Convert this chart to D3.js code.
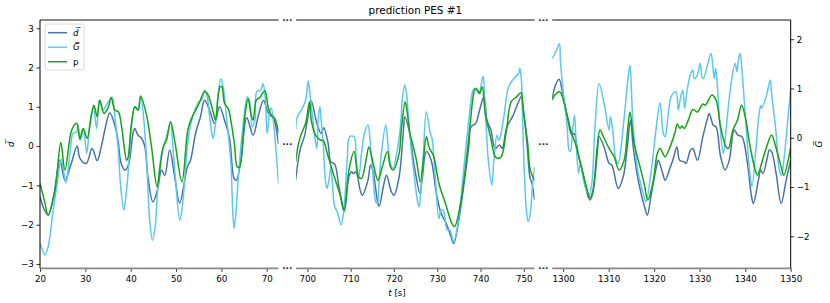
<!DOCTYPE html>
<html>
<head>
<meta charset="utf-8">
<script src="https://cdn.jsdelivr.net/npm/d3@7"></script>
<style>
  body { margin: 0; background: #fff; }
  text { font-family: "DejaVu Sans", sans-serif; }
</style>
</head>
<body>
<div id="chart"></div>
<script>

// time windows shown in the three broken panels [s]
const windows = [[20, 72.6], [697.4, 752.5], [1297.6, 1350]];
const windowTicks = [
  [20, 30, 40, 50, 60, 70],
  [700, 710, 720, 730, 740, 750],
  [1300, 1310, 1320, 1330, 1340, 1350]
];
const leftTicks = [-3, -2, -1, 0, 1, 2, 3];
const rightTicks = [-2, -1, 0, 1, 2];

// d-bar (left axis)
const dbarWin1 = [[20,-1.29],[21,-1.63],[21.8,-1.75],[23,-1.27],[24.4,-0.36],[25.5,-0.87],[26.9,-0.44],[28.2,0],[28.8,-0.31],[30.2,-0.44],[31.5,-0.06],[32.6,-0.37],[33.5,-0.02],[34.3,0.41],[35.4,0.85],[36.5,0.53],[37.2,0.15],[37.9,-0.44],[38.8,-0.61],[39.6,-0.44],[40.5,0.32],[40.9,0.45],[41.6,0.28],[42.4,0.2],[43.1,0],[43.8,-0.78],[44.9,-1.42],[45.9,-1.12],[46.8,-0.61],[47.5,-0.75],[48.6,-0.1],[49.7,-0.78],[50.8,-1.45],[51.8,-0.95],[52.5,-0.53],[53.2,-0.36],[54.3,0.32],[55.4,0.75],[56.3,1.17],[57.4,0.92],[58.5,0.58],[59.6,1.0],[60.7,0.66],[61.8,0.2],[62.8,-0.82],[63.3,-0.87],[64.3,-0.36],[65.6,0.72],[67,0.28],[68.2,0.8],[69.3,1.17],[70.3,0.85],[71.5,0.7],[72.6,0.05]];
const dbarWin2 = [[697.3,-0.87],[698.3,-0.1],[699.4,0.28],[700,0.66],[700.9,1.15],[702.2,0.58],[703.2,0.32],[703.8,0.47],[704.8,0.07],[705.4,-0.4],[706.3,-0.46],[707.3,-1.03],[708.5,-1.67],[709.6,-0.78],[710.2,-0.65],[710.6,-0.7],[711.2,-0.65],[712.2,-1.12],[712.7,-1.25],[714,-0.87],[714.6,-0.48],[715.2,-0.65],[716.3,-1.46],[716.6,-1.53],[717.7,-0.95],[718.3,-0.74],[719.4,-1.16],[720,-1.25],[721.2,-0.78],[722.2,0.41],[722.5,0.75],[723.5,0.41],[724.5,-0.36],[725,-0.7],[726,-1.2],[726.5,-0.87],[727.5,-0.14],[728.6,-0.36],[729.8,-1.2],[730.9,-1.71],[732.1,-1.97],[733.2,-2.31],[733.8,-2.48],[735,-1.88],[736.1,-1.03],[737.3,-0.02],[737.8,0.49],[738.9,0.58],[739.8,0.92],[740.8,1.26],[741.5,0.66],[742.4,0.41],[743.4,-0.06],[744.4,0.03],[745,-0.06],[746.1,0.49],[747.4,0.75],[748.8,1.13],[749.4,1.26],[750,0.83],[750.8,-0.02],[751.4,-0.78],[751.9,-0.95],[752.5,-1.37]];
const dbarWin3 = [[1297.6,1.21],[1298.2,1.51],[1299.1,1.7],[1299.9,1.34],[1300.9,0.75],[1301.9,0.28],[1302.4,0.32],[1303.3,-0.19],[1304.4,-0.7],[1305.5,-1.29],[1305.9,-1.37],[1306.5,-1.2],[1307.5,-0.19],[1307.9,0.24],[1309,-0.02],[1310.1,-0.44],[1310.7,-0.48],[1312.1,-1.08],[1313.2,-0.78],[1314.1,-0.02],[1314.8,0.66],[1315.4,-0.02],[1316.5,-0.87],[1318,-1.59],[1318.5,-1.76],[1319.4,-1.2],[1320.5,-0.53],[1320.9,-0.36],[1321.9,-0.7],[1322.4,-0.87],[1323.5,-0.55],[1324.1,-0.36],[1325,-0.02],[1325.6,-0.36],[1326.6,-0.4],[1327,-0.44],[1328,-0.1],[1328.5,-0.06],[1329.5,-0.36],[1330.7,0.24],[1331.7,0.7],[1332.1,0.83],[1333,0.53],[1333.6,0.49],[1334.6,-0.27],[1335.6,-0.61],[1336.5,-0.36],[1337.6,0.41],[1338.4,0.28],[1339.3,0.24],[1340.4,-0.36],[1341.4,-1.29],[1341.8,-1.46],[1342.9,-0.87],[1343.4,-0.61],[1343.9,-0.7],[1344.9,-0.27],[1345.3,-0.1],[1345.8,-0.14],[1346.8,-0.7],[1347.9,-1.46],[1349,-0.87],[1350,-0.36]];

// G-bar (right axis)
const gbarWin1 = [[20,-2.14],[20.7,-2.31],[21.1,-2.38],[21.8,-2.21],[22.9,-1.47],[23.8,-0.92],[24.7,-0.43],[25.7,-0.92],[26.6,-0.32],[27.3,0.09],[28.1,0.12],[28.4,0.26],[28.9,-0.05],[29.6,0.16],[30.3,-0.32],[31,0.29],[31.8,0.6],[32.5,0.19],[33.1,0.76],[33.9,0.56],[34.6,0.66],[35.1,0.73],[35.9,0.82],[36.5,0.43],[37.2,-0.18],[37.8,-0.99],[38.5,-1.47],[39,-1.13],[39.6,-0.52],[40.1,0.16],[40.9,0.63],[41.5,0.56],[42.2,0.85],[42.9,0.36],[43.5,-0.45],[44.2,-1.67],[44.8,-2.08],[45.4,-1.8],[46,-0.99],[46.8,-0.32],[47.9,0.02],[48.8,0.32],[49.3,-0.18],[49.9,-0.86],[50.8,-1.67],[51.3,-1.47],[51.9,-0.86],[52.5,-0.18],[53,0.16],[53.7,0.43],[55,0.73],[55.6,0.76],[56.3,0.97],[56.9,0.83],[57.4,0.43],[57.9,0.09],[58.2,-0.01],[58.7,0.29],[59.3,0.9],[59.9,1.2],[60.4,1.03],[61.2,0.36],[62.1,-0.52],[62.5,-1.47],[62.8,-1.84],[63.2,-1.53],[63.7,-0.86],[64.3,-0.18],[65,0.43],[65.7,0.83],[66.3,0.7],[66.8,0.22],[67.4,0.36],[67.8,0.93],[68.7,0.97],[69.2,1.1],[69.7,0.76],[70.1,0.09],[70.7,0.56],[71,0.6],[71.6,0.22],[72.1,-0.32],[72.6,-0.93]];
const gbarWin2 = [[697.3,0.16],[697.7,0.43],[698.6,0.56],[699.6,0.76],[700.2,1.15],[700.6,0.9],[701.2,0.43],[701.7,0.02],[702.2,-0.22],[702.5,0.36],[702.9,0.63],[703.2,0.36],[703.7,-0.18],[704.1,-0.79],[704.5,-1.03],[705,-0.86],[705.4,-0.59],[705.8,-0.93],[706.3,-1.4],[706.9,-1.5],[707.8,-1.77],[708.5,-1.4],[709.2,-0.45],[709.8,0.02],[710.8,0.02],[711.3,-0.45],[711.9,-0.79],[712.5,-0.32],[713.2,0.09],[714,0.26],[714.6,-0.18],[715.2,-0.79],[715.8,-1.3],[716.2,-1.33],[716.5,-0.99],[717.1,-0.32],[718.1,0.26],[718.6,-0.11],[719.2,-0.52],[719.8,-0.62],[720.9,-0.18],[721.5,0.22],[722,0.83],[722.5,1.07],[722.9,0.9],[723.4,0.36],[724,-0.25],[724.5,-0.62],[725.4,-1.26],[725.8,-1.4],[726.3,-0.99],[726.8,-0.32],[727.5,0.53],[728.4,0.09],[728.8,-0.01],[729.6,-0.86],[730.4,-1.64],[730.9,-1.47],[731.4,-1.47],[732.3,-1.87],[732.9,-1.87],[733.8,-2.11],[735,-1.6],[736.1,-0.66],[737.3,0.36],[738.3,0.97],[738.8,1.0],[739.6,0.9],[740.6,1.25],[740.9,0.9],[741.4,0.09],[741.8,-0.45],[742.6,-0.96],[743.1,-0.45],[743.8,0.05],[744.2,-0.05],[744.6,0.02],[745.5,0.49],[746.5,1.03],[747.7,1.2],[748.8,1.3],[749.1,1.41],[749.4,1.24],[749.7,0.49],[750.1,-0.66],[750.6,-1.47],[751,-1.7],[751.5,-1.53],[752,-0.99],[752.5,-0.59]];
const gbarWin3 = [[1297.6,1.61],[1298.2,1.71],[1298.7,1.81],[1299.2,1.91],[1299.4,1.58],[1299.9,1.03],[1300.9,0.22],[1301.3,-0.25],[1301.6,-0.28],[1302.1,0.16],[1302.5,0.46],[1302.9,-0.18],[1303.4,-0.72],[1303.8,-0.52],[1304.8,-0.99],[1305.7,-1.16],[1306.3,-0.93],[1307,0.22],[1307.9,1.1],[1309,0.7],[1310.1,0.16],[1310.4,0.43],[1310.9,0.16],[1311.6,-0.45],[1312.1,-0.52],[1313.2,0.22],[1314.3,1.24],[1314.7,1.47],[1315,0.97],[1315.4,0.22],[1316.5,-0.72],[1317.6,-1.13],[1318.2,-1.3],[1319.2,-0.79],[1320.4,0.16],[1321.3,0.71],[1322,0.09],[1322.4,0.02],[1323.3,0.63],[1323.9,0.87],[1324.8,0.93],[1325.3,0.56],[1325.8,0.82],[1326.3,0.97],[1326.7,0.6],[1327.2,0.93],[1328,1.3],[1328.5,1.37],[1328.8,1.2],[1329.4,1.25],[1330.1,1.51],[1330.5,1.24],[1330.8,1.2],[1331.7,1.47],[1332.5,1.71],[1332.9,1.44],[1333.2,1.2],[1333.5,1.41],[1333.8,1.17],[1334.5,0.22],[1335.2,-0.32],[1335.8,0.16],[1336.8,1.03],[1337.8,1.51],[1338.2,1.34],[1338.5,1.58],[1338.9,1.71],[1339.3,1.37],[1340.2,0.22],[1341.1,-0.79],[1341.5,-0.99],[1342.4,-0.18],[1342.9,0.36],[1343.4,0.66],[1343.6,0.6],[1344.6,0.83],[1345.5,1.17],[1345.8,0.9],[1346.8,0.09],[1347.5,-0.66],[1348,-0.76],[1348.5,-0.45],[1349.5,0.49],[1350,1.0]];

// prediction p (left axis)
const predWin1 = [[20,-0.95],[21,-1.4],[21.8,-1.76],[23.3,-1.12],[24.6,0.09],[25.5,-0.61],[27,0.41],[28.1,0.58],[28.8,0.18],[29.5,0.45],[30.4,0.2],[31.4,0.83],[31.9,1.04],[32.6,0.75],[33.2,1.17],[34.1,0.83],[35.1,1.0],[35.7,1.24],[36.5,0.92],[37.3,0.87],[38,0.49],[39.1,-0.36],[39.4,-0.3],[40.2,0.6],[40.95,1.0],[41.7,0.92],[42.2,1.27],[43.5,0.79],[44.6,-0.02],[45.8,-1.03],[46.5,-0.53],[47.2,-0.02],[47.9,0.15],[48.8,0.62],[49.8,0.07],[51.3,-0.91],[52.6,0.41],[53.4,0.7],[54.9,1.04],[56.3,1.38],[56.9,1.34],[58.2,0.87],[58.7,0.66],[59.7,1.51],[60.1,1.51],[60.7,1.09],[61.5,0.96],[62.2,0.58],[62.9,0.03],[63.5,-0.53],[64,-0.53],[64.8,0.24],[65.3,0.87],[65.9,1.21],[66.5,0.83],[67,0.66],[67.7,1.17],[68.5,1.24],[69.6,1.41],[70.3,1.0],[71,0.79],[71.8,0.7],[72.6,0.34]];
const predWin2 = [[697.3,-0.4],[697.8,-0.02],[698.5,0.28],[699.6,0.58],[700.5,1.13],[700.9,0.66],[701.9,0.28],[703.1,0.15],[703.7,0.14],[704.6,-0.19],[706,-0.7],[707.7,-1.29],[708.5,-1.63],[709.6,-0.61],[710.8,-0.14],[711.8,-0.78],[712.5,-0.82],[713.7,-0.27],[714.2,-0.02],[715.4,-0.53],[716.3,-0.87],[717.3,-0.53],[718.5,-0.14],[719.2,-0.53],[719.8,-0.61],[721.2,-0.19],[721.7,0.41],[722.6,1.13],[723.1,0.83],[723.7,0.32],[724.3,0.07],[725.2,-0.36],[726.1,-0.91],[726.8,-0.36],[727.5,0.24],[728.1,-0.02],[729.2,-0.27],[730.4,-0.95],[731.9,-1.46],[733.4,-1.97],[734,-2.05],[735.4,-1.46],[736.9,-0.19],[737.7,0.66],[738.3,1.26],[738.8,1.47],[739.4,1.41],[739.8,1.34],[740.4,1.51],[741.1,0.83],[742.3,0.24],[743.4,-0.27],[744,-0.31],[744.8,-0.27],[746,0.41],[747.1,1.13],[748.4,1.26],[749.4,1.36],[749.8,1.0],[750.9,0.07],[751.5,-0.61],[752.5,-0.87]];
const predWin3 = [[1297.6,1.17],[1298.2,1.3],[1299.3,1.38],[1299.7,1.3],[1300.8,0.83],[1301.9,0.32],[1302.8,0.03],[1303.8,-0.44],[1305,-0.99],[1305.9,-1.31],[1306.5,-1.16],[1307.5,-0.02],[1308.1,0.41],[1309,0.2],[1310.1,-0.06],[1311.2,-0.27],[1312.3,-0.61],[1313.4,-0.36],[1314.1,0.32],[1314.7,0.87],[1315.6,0.07],[1316.7,-0.44],[1317.8,-0.95],[1318.6,-1.37],[1319.7,-0.95],[1320.7,-0.19],[1321.3,-0.06],[1322.4,-0.27],[1323.5,-0.02],[1324.6,0.36],[1325.1,0.56],[1325.7,0.45],[1326.1,0.51],[1326.6,0.45],[1327.5,0.66],[1328.5,0.93],[1329.5,0.87],[1330.7,1.07],[1331.2,1.04],[1332.7,1.3],[1333.6,1.17],[1334.6,0.49],[1335.8,-0.02],[1336.3,-0.06],[1337.3,0.41],[1338.3,0.66],[1339.2,1.04],[1340,0.75],[1341.1,-0.02],[1342.2,-0.61],[1342.7,-0.74],[1343.6,-0.44],[1344.7,-0.02],[1345.8,0.28],[1346.6,0.03],[1347.7,-0.44],[1348.5,-0.74],[1349.6,-0.27],[1350,-0.02]];

const dbarSeries = [dbarWin1, dbarWin2, dbarWin3];
const gbarSeries = [gbarWin1, gbarWin2, gbarWin3];
const predSeries = [predWin1, predWin2, predWin3];

const colors = { dbar: "#4673a8", gbar: "#5cc8ef", pred: "#16a316" };

const width = 830, height = 303;
const plotTop = 20, plotBottom = 268.3, plotLeft = 40, plotRight = 790.7;
const gap = 17.6;
const panelW = (plotRight - plotLeft - 2 * gap) / 3;
const fs = 8.7;

const svg = d3.select("#chart").append("svg")
    .attr("width", width)
    .attr("height", height);

const yLeft = d3.scaleLinear().domain([-3.11, 3.21]).range([plotBottom, plotTop]);
const yRight = d3.scaleLinear().domain([-2.65, 2.39]).range([plotBottom, plotTop]);

const minus = d => d < 0 ? "\u2212" + Math.abs(d) : String(d);

function styleAxis(g) {
  g.select(".domain").remove();
  g.selectAll(".tick line").attr("stroke", "#000").attr("stroke-width", 0.8);
  g.selectAll(".tick text").attr("font-size", fs).attr("fill", "#000")
    .attr("font-family", "DejaVu Sans");
}

windows.forEach(function(win, i) {
  const x0 = plotLeft + i * (panelW + gap);
  const x = d3.scaleLinear().domain(win).range([x0, x0 + panelW]);

  svg.append("clipPath").attr("id", "clip" + i)
    .append("rect")
      .attr("x", x0).attr("y", plotTop)
      .attr("width", panelW).attr("height", plotBottom - plotTop);

  const g = svg.append("g").attr("clip-path", "url(#clip" + i + ")");

  const lineL = d3.line()
      .x(d => x(d[0])).y(d => yLeft(d[1]))
      .curve(d3.curveCatmullRom.alpha(0.5));
  const lineR = d3.line()
      .x(d => x(d[0])).y(d => yRight(d[1]))
      .curve(d3.curveCatmullRom.alpha(0.5));

  g.append("path").attr("d", lineL(dbarSeries[i]))
    .attr("fill", "none").attr("stroke", colors.dbar).attr("stroke-width", 1.5);
  g.append("path").attr("d", lineR(gbarSeries[i]))
    .attr("fill", "none").attr("stroke", colors.gbar).attr("stroke-width", 1.5);
  g.append("path").attr("d", lineL(predSeries[i]))
    .attr("fill", "none").attr("stroke", colors.pred).attr("stroke-width", 1.5);

  // bottom axis of this window
  svg.append("g")
    .attr("transform", "translate(0," + plotBottom + ")")
    .call(d3.axisBottom(x).tickValues(windowTicks[i]).tickFormat(d3.format("d"))
      .tickSize(3.5).tickPadding(3.7))
    .call(styleAxis);

  // grey top / bottom spines of the broken axis
  [plotTop, plotBottom].forEach(function(yy) {
    svg.append("line")
      .attr("x1", x0).attr("x2", x0 + panelW)
      .attr("y1", yy).attr("y2", yy)
      .attr("stroke", "#888").attr("stroke-width", 1.8);
  });
});

// break markers between windows
[0, 1].forEach(function(k) {
  const cx = plotLeft + (k + 1) * panelW + k * gap + gap / 2;
  [plotTop, (plotTop + plotBottom) / 2, plotBottom].forEach(function(yy) {
    svg.append("text")
      .attr("x", cx).attr("y", yy + 1)
      .attr("text-anchor", "middle")
      .attr("font-size", 9)
      .attr("font-weight", "bold")
      .attr("fill", "#222")
      .text("...");
  });
});

// left and right spines + axes
svg.append("line").attr("x1", plotLeft).attr("x2", plotLeft).attr("y1", plotTop).attr("y2", plotBottom)
  .attr("stroke", "#000").attr("stroke-width", 1);
svg.append("line").attr("x1", plotRight).attr("x2", plotRight).attr("y1", plotTop).attr("y2", plotBottom)
  .attr("stroke", "#000").attr("stroke-width", 1);

svg.append("g")
  .attr("transform", "translate(" + plotLeft + ",0)")
  .call(d3.axisLeft(yLeft).tickValues(leftTicks).tickFormat(minus).tickSize(3.5).tickPadding(2.7))
  .call(styleAxis);

svg.append("g")
  .attr("transform", "translate(" + plotRight + ",0)")
  .call(d3.axisRight(yRight).tickValues(rightTicks).tickFormat(minus).tickSize(3.5).tickPadding(2.5))
  .call(styleAxis);

// titles and labels
svg.append("text")
  .attr("x", (plotLeft + plotRight) / 2).attr("y", 14.3)
  .attr("text-anchor", "middle").attr("font-size", 10.4)
  .text("prediction PES #1");

const xl = svg.append("text")
  .attr("x", 397).attr("y", 295.5)
  .attr("text-anchor", "middle").attr("font-size", fs);
xl.append("tspan").attr("font-style", "italic").text("t");
xl.append("tspan").text(" [s]");

svg.append("text")
  .attr("transform", "translate(13.5," + (plotTop + plotBottom) / 2 + ") rotate(-90)")
  .attr("text-anchor", "middle").attr("font-size", fs).attr("font-style", "italic")
  .text("d\u0305");

svg.append("text")
  .attr("transform", "translate(822," + (plotTop + plotBottom) / 2 + ") rotate(-90)")
  .attr("text-anchor", "middle").attr("font-size", fs).attr("font-style", "italic")
  .text("G\u0305");

// legend
const legend = svg.append("g").attr("transform", "translate(45,24)");
legend.append("rect")
  .attr("width", 39).attr("height", 46).attr("rx", 2)
  .attr("fill", "#fff").attr("fill-opacity", 0.8)
  .attr("stroke", "#d0d0d0").attr("stroke-width", 0.8);

const legendItems = [
  { label: "d\u0305", color: colors.dbar, italic: true },
  { label: "G\u0305", color: colors.gbar, italic: true },
  { label: "p", color: colors.pred, italic: false }
];

legendItems.forEach(function(item, j) {
  const yy = 8.7 + j * 14.5;
  legend.append("line")
    .attr("x1", 3).attr("x2", 22).attr("y1", yy).attr("y2", yy)
    .attr("stroke", item.color).attr("stroke-width", 1.5);
  legend.append("text")
    .attr("x", 28).attr("y", yy).attr("dy", "0.35em")
    .attr("font-size", fs)
    .attr("font-style", item.italic ? "italic" : "normal")
    .text(item.label);
});

</script>
</body>
</html>
